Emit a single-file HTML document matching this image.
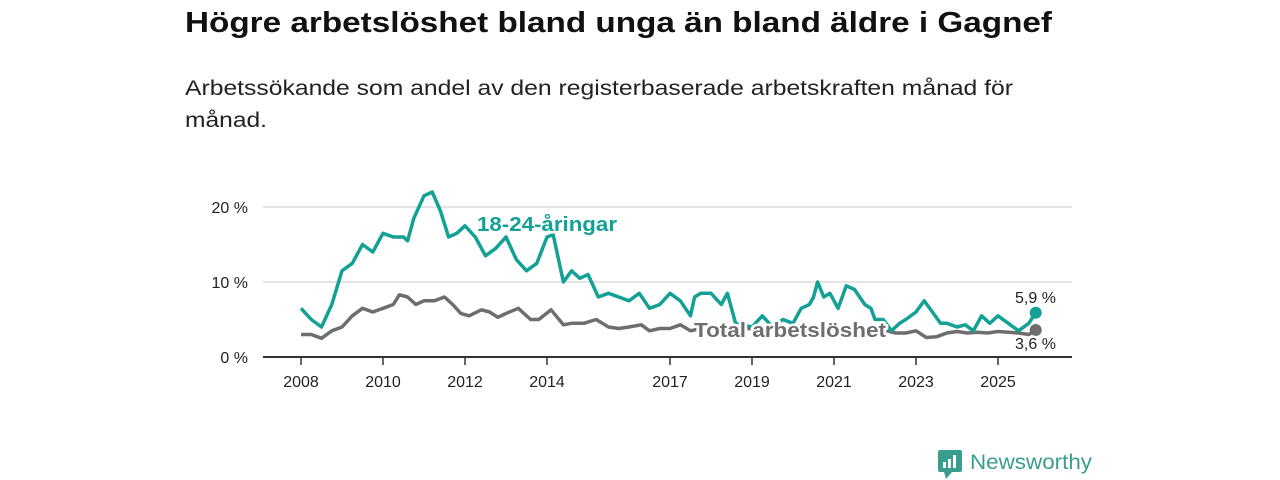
<!DOCTYPE html>
<html><head><meta charset="utf-8"><style>
html,body{margin:0;padding:0;background:#fff;width:1280px;height:480px;overflow:hidden;font-family:"Liberation Sans",sans-serif}
</style></head><body>
<svg id="chart" width="1280" height="480" xmlns="http://www.w3.org/2000/svg" font-family="Liberation Sans, sans-serif">
<text x="185" y="32" font-size="29" font-weight="bold" fill="#111" textLength="867" lengthAdjust="spacingAndGlyphs">Högre arbetslöshet bland unga än bland äldre i Gagnef</text>
<text x="185" y="95" font-size="21" fill="#222" textLength="828" lengthAdjust="spacingAndGlyphs">Arbetssökande som andel av den registerbaserade arbetskraften månad för</text>
<text x="185" y="127" font-size="21" fill="#222" textLength="82" lengthAdjust="spacingAndGlyphs">månad.</text>
<g id="grid"></g><g id="lines"></g><g id="labels"></g>
<g>
<rect x="938" y="450" width="24" height="22" rx="2" fill="#3a9e8f"/>
<polygon points="944,472 952,472 946,479" fill="#3a9e8f"/>
<rect x="943" y="462" width="3" height="6" fill="#fff"/><rect x="948" y="459" width="3" height="9" fill="#fff"/><rect x="953" y="455" width="3" height="13" fill="#fff"/>
<text x="970" y="469" font-size="21" fill="#3a9e8f" textLength="122" lengthAdjust="spacingAndGlyphs">Newsworthy</text>
</g>
</svg>
<script>
const youngT=[2008,2008.25,2008.5,2008.75,2009,2009.25,2009.5,2009.75,2010,2010.25,2010.5,2010.6,2010.75,2011,2011.2,2011.4,2011.6,2011.8,2012,2012.25,2012.5,2012.75,2013,2013.25,2013.5,2013.75,2014,2014.15,2014.4,2014.6,2014.8,2015,2015.25,2015.5,2015.75,2016,2016.25,2016.5,2016.75,2017,2017.25,2017.5,2017.6,2017.75,2018,2018.25,2018.4,2018.6,2019,2019.25,2019.5,2019.75,2020,2020.2,2020.4,2020.5,2020.6,2020.75,2020.9,2021.1,2021.3,2021.5,2021.75,2021.9,2022,2022.2,2022.4,2022.6,2022.75,2023,2023.2,2023.4,2023.6,2023.75,2024,2024.2,2024.4,2024.6,2024.8,2025,2025.25,2025.5,2025.75,2025.92];
const youngV=[6.5,5,4,7,11.5,12.5,15,14,16.5,16,16,15.5,18.5,21.5,22,19.5,16,16.5,17.5,16,13.5,14.5,16,13,11.5,12.5,16,16.3,10,11.5,10.5,11,8,8.5,8,7.5,8.5,6.5,7,8.5,7.5,5.5,8,8.5,8.5,7,8.5,4.5,4,5.5,4,5,4.5,6.5,7,8,10,8,8.5,6.5,9.5,9,7,6.5,5,5,3.5,4.5,5,6,7.5,6,4.5,4.5,4,4.3,3.5,5.5,4.5,5.5,4.5,3.5,4.5,5.9];
const totalT=[2008,2008.25,2008.5,2008.75,2009,2009.25,2009.5,2009.75,2010,2010.25,2010.4,2010.6,2010.8,2011,2011.25,2011.5,2011.7,2011.9,2012.1,2012.4,2012.6,2012.8,2013,2013.3,2013.6,2013.8,2014.1,2014.4,2014.6,2014.9,2015.2,2015.5,2015.75,2016,2016.3,2016.5,2016.75,2017,2017.25,2017.5,2017.75,2018.5,2019.5,2020.5,2021.5,2022.3,2022.5,2022.75,2023,2023.25,2023.5,2023.75,2024,2024.25,2024.5,2024.75,2025,2025.5,2025.75,2025.92];
const totalV=[3,3,2.5,3.5,4,5.5,6.5,6,6.5,7,8.3,8,7,7.5,7.5,8,7,5.8,5.5,6.3,6,5.3,5.8,6.5,5,5,6.3,4.3,4.5,4.5,5,4,3.8,4,4.3,3.5,3.8,3.8,4.3,3.5,3.8,3.8,3.8,3.6,3.8,3.5,3.2,3.2,3.5,2.6,2.7,3.2,3.4,3.2,3.3,3.2,3.4,3.2,3.0,3.6];
const yTicks=[0,10,20];
const xTicks=[2008,2010,2012,2014,2017,2019,2021,2023,2025];
const NS='http://www.w3.org/2000/svg';
const X=t=>301+(t-2008)*41, Y=v=>357-v*7.5;
function mk(tag,attrs,parent,txt){const e=document.createElementNS(NS,tag);for(const k in attrs)e.setAttribute(k,attrs[k]);if(txt!==undefined)e.textContent=txt;parent.appendChild(e);return e;}
const grid=document.getElementById('grid'),lines=document.getElementById('lines'),labels=document.getElementById('labels');
yTicks.forEach(v=>{
 if(v>0){const g=mk('line',{x1:263,x2:1072,y1:Y(v),y2:Y(v),stroke:'#dcdcdc','stroke-width':1.5},grid);
 
 }
 const t=mk('text',{x:248,y:Y(v)+6,'text-anchor':'end','font-size':16,fill:'#222'},grid,v+' %');
 
 
});
const ax=mk('line',{x1:263,x2:1072,y1:357,y2:357,stroke:'#333','stroke-width':2},grid);


xTicks.forEach(y=>{
 mk('line',{x1:X(y),x2:X(y),y1:357,y2:365,stroke:'#333','stroke-width':1.5},grid);
 const t=mk('text',{x:X(y),y:387,'text-anchor':'middle','font-size':16,fill:'#222'},grid,String(y));
 
 
});
function path(T,V,color,name){
 const d=T.map((t,i)=>(i?'L':'M')+X(t).toFixed(1)+','+Y(V[i]).toFixed(1)).join('');
 const p=mk('path',{d:d,fill:'none',stroke:color,'stroke-width':3.5,'stroke-linejoin':'round'},lines);
 
 
 const c=mk('circle',{cx:X(T[T.length-1]),cy:Y(V[V.length-1]),r:6,fill:color},lines);
 
 
}
path(totalT,totalV,'#6e6e6e','total-line');
path(youngT,youngV,'#13a195','young-line');
function lbl(x,y,txt,color,size,weight,name,len){
 const a={x:x,y:y,'font-size':size,'font-weight':weight,fill:color,stroke:'#fff','stroke-width':5,'paint-order':'stroke','stroke-linejoin':'round'};
 if(len){a.textLength=len;a.lengthAdjust='spacingAndGlyphs';}
 const t=mk('text',a,labels,txt);
 
 
}
lbl(477,231,'18-24-åringar','#13a195',20,'bold','young-series-label',140);
lbl(694,337,'Total arbetslöshet','#6e6e6e',20,'bold','total-series-label',192);
lbl(1015,303,'5,9 %','#222',16,'normal','young-last-value');
lbl(1015,349,'3,6 %','#222',16,'normal','total-last-value');
</script>
</body></html>
